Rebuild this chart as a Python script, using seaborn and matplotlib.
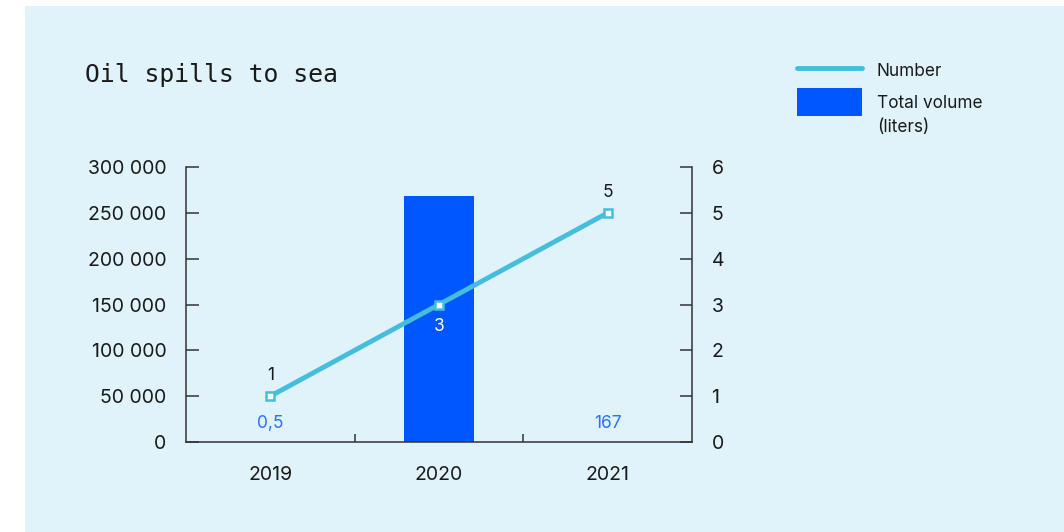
import matplotlib
matplotlib.use("Agg")
import matplotlib.pyplot as plt
from matplotlib.lines import Line2D
from matplotlib.patches import Rectangle
from matplotlib.ticker import FuncFormatter
import numpy as np
import pandas as pd
import seaborn as sns

# Data
years = ["2019", "2020", "2021"]
volume_liters = [0.5, 268000, 167]
spill_count = [1, 3, 5]
volume_labels = ["0,5", None, "167"]

left_ticks = [0, 50000, 100000, 150000, 200000, 250000, 300000]
right_ticks = [0, 1, 2, 3, 4, 5, 6]

BG = "#E0F3FA"
BAR = "#0057FF"
LINE = "#45BDDC"
INK = "#1A1A1A"
LABEL_BLUE = "#2B70FF"

sns.set_theme(style="white")
plt.rcParams["font.family"] = ["Inter", "DejaVu Sans"]

W, H = 1064, 532
fig = plt.figure(figsize=(W / 100, H / 100), dpi=100)
fig.patch.set_facecolor("white")

def fx(px):
    return px / W

def fy(py):
    return 1 - py / H

# light panel behind the chart
fig.add_artist(Rectangle((fx(25), 0), 1 - fx(25), fy(6), transform=fig.transFigure,
                         facecolor=BG, edgecolor="none", zorder=0))

ax = fig.add_axes([fx(186), fy(442), fx(692) - fx(186), fy(167) - fy(442)])
ax.set_facecolor("none")
df = pd.DataFrame({"year": years, "volume": volume_liters, "count": spill_count})

sns.barplot(data=df, x="year", y="volume", ax=ax, color=BAR, width=0.42,
            saturation=1, edgecolor="none", zorder=2)
ax.set_xlim(-0.5, 2.5)
ax.set_ylim(0, 300000)
ax.set_yticks(left_ticks)
ax.yaxis.set_major_formatter(FuncFormatter(lambda v, _: f"{int(v):,}".replace(",", " ")))
ax.set_xticks([0, 1, 2])
ax.set_xticklabels(years)
ax.set_xlabel("")
ax.set_ylabel("")

# minor ticks mark the category boundaries
ax.set_xticks([0.5, 1.5], minor=True)

ax2 = ax.twinx()
ax2.set_facecolor("none")
xpos = np.arange(len(years))
sns.lineplot(x=xpos, y=spill_count, ax=ax2, color=LINE, linewidth=3.5,
             marker="s", markersize=5.2, markerfacecolor="white",
             markeredgecolor=LINE, markeredgewidth=1.8, zorder=3)
ax2.set_ylim(0, 6)
ax2.set_yticks(right_ticks)
ax2.set_xlim(-0.5, 2.5)
ax2.set_ylabel("")

for a in (ax, ax2):
    a.spines["top"].set_visible(False)
    for side in ("left", "right", "bottom"):
        a.spines[side].set_color("#333333")
        a.spines[side].set_linewidth(1.1)

ax.spines["right"].set_visible(False)
ax2.spines["left"].set_visible(False)
ax2.spines["bottom"].set_visible(False)

ax.tick_params(axis="y", direction="in", length=9, width=1.1, color="#333333",
               labelsize=14, labelcolor=INK, pad=14, left=True)
ax.tick_params(axis="x", which="major", length=0, labelsize=14, labelcolor=INK, pad=17)
ax.tick_params(axis="x", which="minor", direction="in", length=6, width=1.1, color="#333333",
               bottom=True)
ax2.tick_params(axis="y", direction="in", length=9, width=1.1, color="#333333",
                labelsize=14, labelcolor=INK, pad=14, right=True)

# point labels for the count series
for i, c in enumerate(spill_count):
    if i == 1:
        ax2.annotate(str(c), (xpos[i], c), xytext=(0, -16), textcoords="offset points",
                     ha="center", va="center", color="white", fontsize=12.5, zorder=5)
    else:
        ax2.annotate(str(c), (xpos[i], c), xytext=(0, 15), textcoords="offset points",
                     ha="center", va="center", color=INK, fontsize=12.5, zorder=5)

# volume labels for the small bars
for i, lab in enumerate(volume_labels):
    if lab is not None:
        ax.annotate(lab, (i, volume_liters[i]), xytext=(0, 13), textcoords="offset points",
                    ha="center", va="center", color=LABEL_BLUE, fontsize=12.5, zorder=5)

# title
fig.text(fx(85), fy(75), "Oil spills to sea", fontsize=17.8, family="DejaVu Sans Mono",
         color=INK, ha="left", va="center")

# legend
fig.add_artist(Line2D([fx(797), fx(862)], [fy(68), fy(68)], transform=fig.transFigure,
                      color=LINE, linewidth=3.5))
fig.add_artist(Rectangle((fx(797), fy(116)), fx(862) - fx(797), fy(88) - fy(116),
                         transform=fig.transFigure, facecolor=BAR, edgecolor="none"))
fig.text(fx(877), fy(72), "Number", fontsize=12.4, color=INK, ha="left", va="center")
fig.text(fx(877), fy(104), "Total volume", fontsize=12.4, color=INK, ha="left", va="center")
fig.text(fx(877), fy(127), "(liters)", fontsize=12.4, color=INK, ha="left", va="center")

fig.savefig("out.png", dpi=100, facecolor=fig.get_facecolor())
